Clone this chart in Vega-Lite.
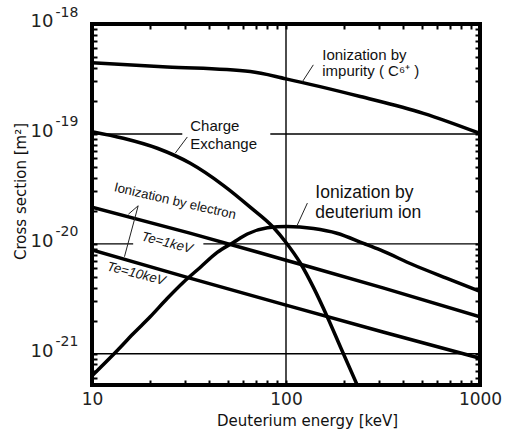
{
  "$schema": "https://vega.github.io/schema/vega-lite/v6.json",
  "width": 388,
  "height": 361,
  "autosize": {"type": "none"},
  "padding": {"left": 92, "top": 24, "right": 27, "bottom": 45},
  "background": "white",
  "config": {
    "view": {"stroke": "black", "strokeWidth": 4},
    "axis": {"grid": false, "domain": false, "tickColor": "black", "tickWidth": 2, "tickSize": -5, "labelOverlap": false, "labelFlush": false, "labelBound": false}
  },
  "datasets": {
    "grid": [
      {"x1": 10, "x2": 29.2, "y1": 1e-19, "y2": 1e-19},
      {"x1": 83, "x2": 1000, "y1": 1e-19, "y2": 1e-19},
      {"x1": 10, "x2": 16.3, "y1": 1e-20, "y2": 1e-20},
      {"x1": 37.5, "x2": 1000, "y1": 1e-20, "y2": 1e-20},
      {"x1": 10, "x2": 1000, "y1": 1e-21, "y2": 1e-21},
      {"x1": 100, "x2": 100, "y1": 5.2e-22, "y2": 1e-18}
    ],
    "curves": [
      {"series": "impurity", "e": 10, "s": 4.43e-19},
      {"series": "impurity", "e": 24.4, "s": 4.07e-19},
      {"series": "impurity", "e": 65.4, "s": 3.69e-19},
      {"series": "impurity", "e": 100, "s": 3.17e-19},
      {"series": "impurity", "e": 241.5, "s": 2.19e-19},
      {"series": "impurity", "e": 511, "s": 1.54e-19},
      {"series": "impurity", "e": 1000, "s": 1.01e-19},
      {"series": "cx", "e": 10, "s": 1.05e-19},
      {"series": "cx", "e": 14.5, "s": 9.14e-20},
      {"series": "cx", "e": 21.7, "s": 7.41e-20},
      {"series": "cx", "e": 32.1, "s": 5.41e-20},
      {"series": "cx", "e": 47.5, "s": 3.41e-20},
      {"series": "cx", "e": 65.6, "s": 2.15e-20},
      {"series": "cx", "e": 86.2, "s": 1.41e-20},
      {"series": "cx", "e": 100, "s": 1.03e-20},
      {"series": "cx", "e": 118.9, "s": 6.63e-21},
      {"series": "cx", "e": 138.7, "s": 4.0e-21},
      {"series": "cx", "e": 163.8, "s": 2.14e-21},
      {"series": "cx", "e": 191.3, "s": 1.14e-21},
      {"series": "cx", "e": 240, "s": 4.6e-22},
      {"series": "deut", "e": 10, "s": 6.3e-22},
      {"series": "deut", "e": 13.5, "s": 1.07e-21},
      {"series": "deut", "e": 16.3, "s": 1.52e-21},
      {"series": "deut", "e": 19.95, "s": 2.17e-21},
      {"series": "deut", "e": 24.4, "s": 3.18e-21},
      {"series": "deut", "e": 29.5, "s": 4.45e-21},
      {"series": "deut", "e": 36.1, "s": 6.1e-21},
      {"series": "deut", "e": 44.2, "s": 8.36e-21},
      {"series": "deut", "e": 53.5, "s": 1.03e-20},
      {"series": "deut", "e": 63.2, "s": 1.23e-20},
      {"series": "deut", "e": 80.2, "s": 1.40e-20},
      {"series": "deut", "e": 101, "s": 1.44e-20},
      {"series": "deut", "e": 138.7, "s": 1.38e-20},
      {"series": "deut", "e": 183, "s": 1.25e-20},
      {"series": "deut", "e": 251, "s": 1.01e-20},
      {"series": "deut", "e": 306, "s": 8.8e-21},
      {"series": "deut", "e": 455, "s": 6.42e-21},
      {"series": "deut", "e": 676, "s": 4.85e-21},
      {"series": "deut", "e": 1000, "s": 3.7e-21},
      {"series": "te1", "e": 10, "s": 2.15e-20},
      {"series": "te1", "e": 31.6, "s": 1.26e-20},
      {"series": "te1", "e": 100, "s": 7.1e-21},
      {"series": "te1", "e": 316, "s": 3.98e-21},
      {"series": "te1", "e": 1000, "s": 2.17e-21},
      {"series": "te10", "e": 10, "s": 8.8e-21},
      {"series": "te10", "e": 31.6, "s": 4.9e-21},
      {"series": "te10", "e": 100, "s": 2.77e-21},
      {"series": "te10", "e": 316, "s": 1.58e-21},
      {"series": "te10", "e": 1000, "s": 9.1e-22}
    ],
    "leaders": [
      {"x1": 121.4, "y1": 2.98e-19, "x2": 138.3, "y2": 4.25e-19},
      {"x1": 26.9, "y1": 6.71e-20, "x2": 31.0, "y2": 9.38e-20},
      {"x1": 114.3, "y1": 1.48e-20, "x2": 128.9, "y2": 2.35e-20},
      {"x1": 17.3, "y1": 2.22e-20, "x2": 15.4, "y2": 1.86e-20},
      {"x1": 17.3, "y1": 2.22e-20, "x2": 14.7, "y2": 7.64e-21}
    ],
    "labelsSmall": [
      {"e": 153.8, "s": 4.72e-19, "t": "Ionization by"},
      {"e": 153.8, "s": 3.37e-19, "t": "impurity ( C⁶⁺ )"},
      {"e": 32.1, "s": 1.07e-19, "t": "Charge"},
      {"e": 32.1, "s": 7.3e-20, "t": "Exchange"}
    ],
    "labelsLarge": [
      {"e": 141.6, "s": 2.6e-20, "t": "Ionization by"},
      {"e": 141.6, "s": 1.73e-20, "t": "deuterium ion"}
    ],
    "labelsElectron": [
      {"e": 26.5, "s": 2.25e-20, "t": "Ionization by electron"}
    ],
    "labelsTe": [
      {"e": 24.1, "s": 9.42e-21, "t": "Te=1keV"},
      {"e": 16.7, "s": 4.93e-21, "t": "Te=10keV"}
    ]
  },
  "layer": [
    {
      "data": {"name": "grid"},
      "mark": {"type": "rule", "color": "black", "strokeWidth": 1.4},
      "encoding": {
        "x": {"field": "x1", "type": "quantitative",
              "scale": {"type": "log", "domain": [10, 1000], "nice": false},
              "axis": {"orient": "top", "title": null, "labels": false,
                       "values": [10,20,30,40,50,60,70,80,90,100,200,300,400,500,600,700,800,900,1000]}},
        "x2": {"field": "x2"},
        "y": {"field": "y1", "type": "quantitative",
              "scale": {"type": "log", "domain": [5.2e-22, 1e-18], "nice": false},
              "axis": {"orient": "right", "title": null, "labels": false,
                       "values": [6e-22,7e-22,8e-22,9e-22,1e-21,2e-21,3e-21,4e-21,5e-21,6e-21,7e-21,8e-21,9e-21,1e-20,2e-20,3e-20,4e-20,5e-20,6e-20,7e-20,8e-20,9e-20,1e-19,2e-19,3e-19,4e-19,5e-19,6e-19,7e-19,8e-19,9e-19,1e-18]}},
        "y2": {"field": "y2"}
      }
    },
    {
      "data": {"name": "curves"},
      "mark": {"type": "line", "color": "black", "strokeWidth": 3.5, "clip": true, "interpolate": "monotone"},
      "encoding": {
        "x": {"field": "e", "type": "quantitative",
              "scale": {"type": "log", "domain": [10, 1000], "nice": false},
              "axis": {"orient": "bottom", "title": "Deuterium energy [keV]",
                       "values": [10,20,30,40,50,60,70,80,90,100,200,300,400,500,600,700,800,900,1000],
                       "labelExpr": "indexof([10,100,1000], datum.value) >= 0 ? datum.value + '' : ''",
                       "labelFont": "DejaVu Sans", "labelFontSize": 17, "labelColor": "#222", "labelPadding": 11,
                       "titleFont": "DejaVu Sans", "titleFontSize": 15, "titleFontWeight": "normal", "titleColor": "#111",
                       "titleX": 215, "titleY": 35, "titleBaseline": "middle", "titleAlign": "center"}},
        "y": {"field": "s", "type": "quantitative",
              "scale": {"type": "log", "domain": [5.2e-22, 1e-18], "nice": false},
              "axis": {"orient": "left", "title": "Cross section [m²]",
                       "values": [6e-22,7e-22,8e-22,9e-22,1e-21,2e-21,3e-21,4e-21,5e-21,6e-21,7e-21,8e-21,9e-21,1e-20,2e-20,3e-20,4e-20,5e-20,6e-20,7e-20,8e-20,9e-20,1e-19,2e-19,3e-19,4e-19,5e-19,6e-19,7e-19,8e-19,9e-19,1e-18],
                       "labelExpr": "indexof([1e-18,1e-19,1e-20,1e-21], datum.value) >= 0 ? '10' : ''",
                       "labelFont": "DejaVu Sans", "labelFontSize": 18, "labelColor": "#222",
                       "labelPadding": 44, "labelOffset": -2.5, "labelBaseline": "middle", "labelAlign": "right",
                       "titleFont": "DejaVu Sans", "titleFontSize": 15, "titleFontWeight": "normal", "titleColor": "#111",
                       "titleX": -72, "titleY": 167, "titleBaseline": "middle", "titleAlign": "center", "titleAngle": -90}},
        "detail": {"field": "series"}
      }
    },
    {
      "data": {"name": "leaders"},
      "mark": {"type": "rule", "color": "#222", "strokeWidth": 1},
      "encoding": {
        "x": {"field": "x1", "type": "quantitative",
              "scale": {"type": "log", "domain": [10, 1000], "nice": false}, "axis": null},
        "x2": {"field": "x2"},
        "y": {"field": "y1", "type": "quantitative",
              "scale": {"type": "log", "domain": [5.2e-22, 1e-18], "nice": false},
              "axis": {"orient": "left", "title": null, "ticks": false,
                       "values": [1e-21, 1e-20, 1e-19, 1e-18],
                       "labelExpr": "'-' + round(-log(datum.value) / LN10)",
                       "labelFont": "DejaVu Sans", "labelFontSize": 14, "labelColor": "#222",
                       "labelPadding": 37, "labelOffset": -12, "labelBaseline": "middle", "labelAlign": "left"}},
        "y2": {"field": "y2"}
      }
    },
    {
      "data": {"name": "labelsSmall"},
      "mark": {"type": "text", "font": "Liberation Sans", "fontSize": 15, "align": "left", "baseline": "alphabetic", "color": "#111"},
      "encoding": {
        "x": {"field": "e", "type": "quantitative", "scale": {"type": "log", "domain": [10, 1000], "nice": false}, "axis": null},
        "y": {"field": "s", "type": "quantitative", "scale": {"type": "log", "domain": [5.2e-22, 1e-18], "nice": false}, "axis": null},
        "text": {"field": "t"}
      }
    },
    {
      "data": {"name": "labelsLarge"},
      "mark": {"type": "text", "font": "Liberation Sans", "fontSize": 17.5, "align": "left", "baseline": "alphabetic", "color": "#111"},
      "encoding": {
        "x": {"field": "e", "type": "quantitative", "scale": {"type": "log", "domain": [10, 1000], "nice": false}, "axis": null},
        "y": {"field": "s", "type": "quantitative", "scale": {"type": "log", "domain": [5.2e-22, 1e-18], "nice": false}, "axis": null},
        "text": {"field": "t"}
      }
    },
    {
      "data": {"name": "labelsElectron"},
      "mark": {"type": "text", "font": "Liberation Sans", "fontSize": 13.2, "align": "center", "baseline": "alphabetic", "angle": 13, "color": "#111"},
      "encoding": {
        "x": {"field": "e", "type": "quantitative", "scale": {"type": "log", "domain": [10, 1000], "nice": false}, "axis": null},
        "y": {"field": "s", "type": "quantitative", "scale": {"type": "log", "domain": [5.2e-22, 1e-18], "nice": false}, "axis": null},
        "text": {"field": "t"}
      }
    },
    {
      "data": {"name": "labelsTe"},
      "mark": {"type": "text", "font": "Liberation Sans", "fontSize": 13.3, "fontStyle": "italic", "align": "center", "baseline": "alphabetic", "angle": 14.5, "color": "#111"},
      "encoding": {
        "x": {"field": "e", "type": "quantitative", "scale": {"type": "log", "domain": [10, 1000], "nice": false}, "axis": null},
        "y": {"field": "s", "type": "quantitative", "scale": {"type": "log", "domain": [5.2e-22, 1e-18], "nice": false}, "axis": null},
        "text": {"field": "t"}
      }
    }
  ],
  "resolve": {"axis": {"x": "independent", "y": "independent"}}
}
